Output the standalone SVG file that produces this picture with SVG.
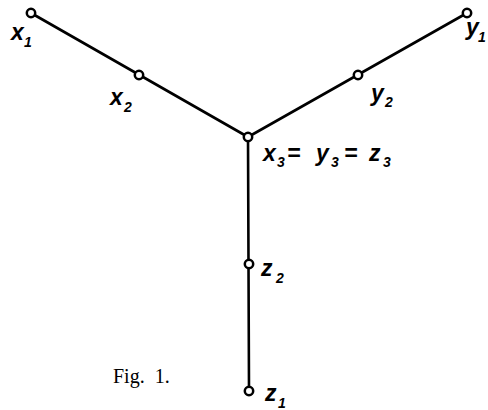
<svg xmlns="http://www.w3.org/2000/svg" width="488" height="410" viewBox="0 0 488 410">
<style>
.edge{stroke:#000;stroke-width:2.6;fill:none;stroke-linecap:round}
.node{fill:#fff;stroke:#000;stroke-width:2.5}
.lbl{font-family:"Liberation Sans",Arial,sans-serif;font-weight:bold;font-style:italic;font-size:23px;fill:#000}
.sub{font-size:14px}
.cap{font-family:"Liberation Serif","Times New Roman",serif;font-size:20px;fill:#000}
</style>
<rect width="488" height="410" fill="#fff"/>
<g id="connectors">
<line class="edge" x1="31" y1="13" x2="248" y2="137"/>
<line class="edge" x1="467" y1="13" x2="248" y2="137"/>
<line class="edge" x1="248" y1="137" x2="249" y2="391"/>
</g>
<g id="x1"><circle class="node" cx="31" cy="13" r="4.2"/><text class="lbl" x="11" y="40">x<tspan class="sub" x="24" y="47">1</tspan></text></g>
<g id="x2"><circle class="node" cx="139" cy="75" r="4.2"/><text class="lbl" x="110" y="105">x<tspan class="sub" x="124" y="112">2</tspan></text></g>
<g id="x3"><circle class="node" cx="248" cy="137" r="4.2"/><text class="lbl" x="263" y="161">x<tspan class="sub" x="277" y="167">3</tspan><tspan x="287" y="161">=</tspan><tspan x="316" y="161">y</tspan><tspan class="sub" x="331" y="167">3</tspan><tspan x="344" y="161">=</tspan><tspan x="369" y="161">z</tspan><tspan class="sub" x="383" y="167">3</tspan></text></g>
<g id="y2"><circle class="node" cx="358" cy="75" r="4.2"/><text class="lbl" x="371" y="101">y<tspan class="sub" x="385" y="107">2</tspan></text></g>
<g id="y1"><circle class="node" cx="467" cy="13" r="4.2"/><text class="lbl" x="466" y="35">y<tspan class="sub" x="478" y="42">1</tspan></text></g>
<g id="z2"><circle class="node" cx="249" cy="264" r="4.2"/><text class="lbl" x="261" y="276">z<tspan class="sub" x="276" y="283">2</tspan></text></g>
<g id="z1"><circle class="node" cx="249" cy="391" r="4.2"/><text class="lbl" x="265" y="401">z<tspan class="sub" x="278" y="408">1</tspan></text></g>
<text class="cap" x="113" y="383">Fig.<tspan dx="10">1.</tspan></text>
</svg>
